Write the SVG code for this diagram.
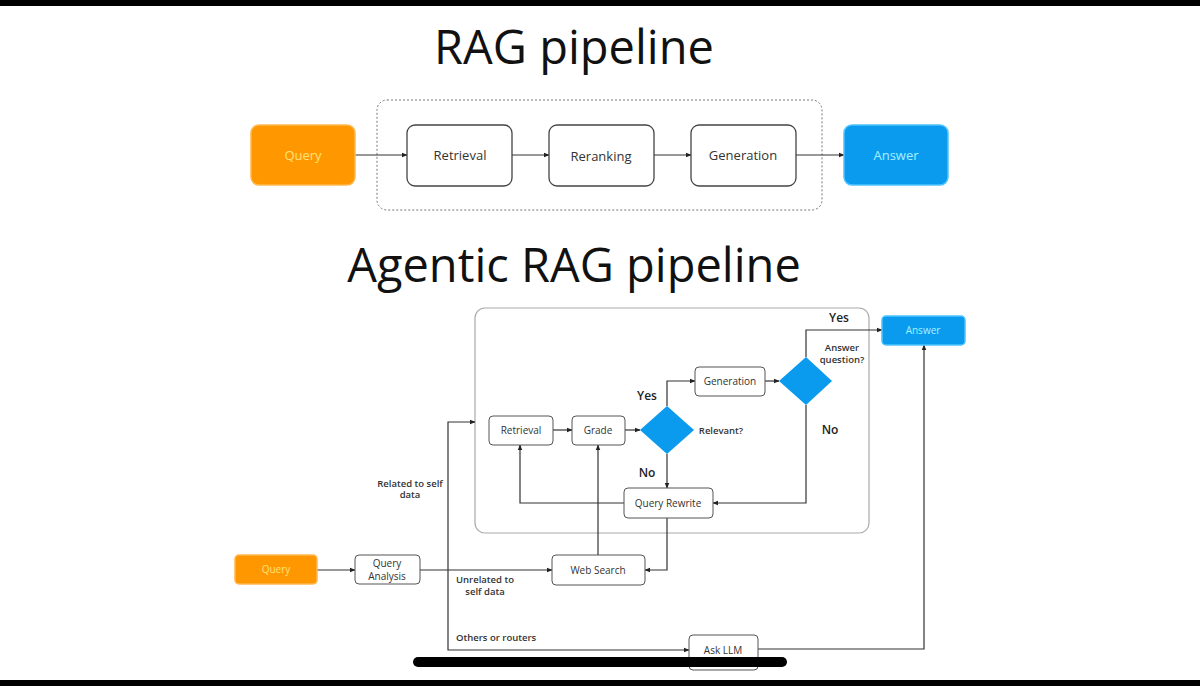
<svg xmlns="http://www.w3.org/2000/svg" width="1200" height="686" viewBox="0 0 1200 686">
<defs>
<marker id="ah" viewBox="0 0 10 10" refX="9" refY="5" markerWidth="5" markerHeight="5" orient="auto-start-reverse"><path d="M0,1 L10,5 L0,9 z" fill="#222"/></marker>
<style>
.title{font-family:"Open Sans","Noto Sans",sans-serif;font-size:47px;fill:#111;text-anchor:middle}
.box{fill:#fff;stroke:#444;stroke-width:1.3}
.sbox{fill:#fff;stroke:#555;stroke-width:1}
.t{font-family:"Open Sans","Noto Sans",sans-serif;font-size:13px;fill:#333;text-anchor:middle}
.s{font-family:"Open Sans","Noto Sans",sans-serif;font-size:10px;fill:#333;text-anchor:middle}
.lb{font-family:"Open Sans","Noto Sans",sans-serif;font-size:9.5px;fill:#333;text-anchor:middle;font-weight:600}
.yn{font-family:"Open Sans","Noto Sans",sans-serif;font-size:12px;fill:#222;text-anchor:middle;font-weight:600}
.orange{fill:#FF9800;stroke:#FFB84D;stroke-width:1.5}
.blue{fill:#0A9BEF;stroke:#4FC3FF;stroke-width:1.5}
.qt{fill:#FFE27A}
.at{fill:#A8F0FF}
.c{fill:none;stroke:#333;stroke-width:1.2}
.ca{fill:none;stroke:#333;stroke-width:1.2;marker-end:url(#ah)}
.dia{fill:#0A9BEF}
</style>
</defs>
<rect x="0" y="0" width="1200" height="686" fill="#fff"/>
<rect x="0" y="0" width="1200" height="6" fill="#000"/>
<rect x="0" y="680" width="1200" height="6" fill="#000"/>

<text class="title" x="574" y="64">RAG pipeline</text>
<text class="title" x="574" y="282">Agentic RAG pipeline</text>

<g id="rag-container"><rect x="377" y="100" width="445" height="110" rx="10" fill="none" stroke="#777" stroke-width="1" stroke-dasharray="2,2"/></g>

<g id="connectors-top">
<line class="ca" x1="355" y1="155" x2="407" y2="155"/>
<line class="ca" x1="512" y1="155" x2="549" y2="155"/>
<line class="ca" x1="654" y1="155" x2="691" y2="155"/>
<line class="ca" x1="796" y1="155" x2="844" y2="155"/>
</g>

<g id="query-top"><rect class="orange" x="251" y="125" width="104" height="60" rx="8"/><text class="t qt" x="303" y="160">Query</text></g>
<g id="retrieval-top"><rect class="box" x="407" y="125" width="105" height="61" rx="8"/><text class="t" x="460" y="160">Retrieval</text></g>
<g id="reranking-top"><rect class="box" x="549" y="125" width="105" height="61" rx="8"/><text class="t" x="601" y="161">Reranking</text></g>
<g id="generation-top"><rect class="box" x="691" y="125" width="105" height="61" rx="8"/><text class="t" x="743" y="160">Generation</text></g>
<g id="answer-top"><rect class="blue" x="844" y="125" width="104" height="60" rx="8"/><text class="t at" x="896" y="160">Answer</text></g>

<g id="agentic-container"><rect x="475" y="308" width="394" height="225" rx="10" fill="none" stroke="#aaa" stroke-width="1.2"/></g>

<g id="connectors-bottom">
<line class="ca" x1="317" y1="570" x2="355" y2="570"/>
<line class="ca" x1="420" y1="570" x2="552" y2="570"/>
<polyline class="ca" points="448,570 448,422 475,422"/>
<polyline class="ca" points="448,570 448,650 689,650"/>
<polyline class="ca" points="758,649 924,649 924,345"/>
<line class="ca" x1="553" y1="430" x2="572" y2="430"/>
<line class="ca" x1="625" y1="430" x2="640" y2="430"/>
<polyline class="ca" points="667,406 667,381 695,381"/>
<line class="ca" x1="765" y1="381" x2="779" y2="381"/>
<polyline class="ca" points="806,357 806,330 882,330"/>
<line class="ca" x1="667" y1="454" x2="667" y2="488"/>
<polyline class="ca" points="806,405 806,503 713,503"/>
<polyline class="ca" points="624,503 520,503 520,445"/>
<line class="ca" x1="598" y1="555" x2="598" y2="445"/>
<polyline class="ca" points="667,518 667,570 645,570"/>
</g>

<g id="labels">
<text class="lb" x="410" y="487">Related to self</text>
<text class="lb" x="410" y="498">data</text>
<text class="lb" x="485" y="583">Unrelated to</text>
<text class="lb" x="485" y="595">self data</text>
<text class="lb" x="456" y="641" style="text-anchor:start">Others or routers</text>
<text class="lb" x="721" y="434">Relevant?</text>
<text class="lb" x="842" y="351">Answer</text>
<text class="lb" x="842" y="363">question?</text>
<text class="yn" x="647" y="400">Yes</text>
<text class="yn" x="647" y="477">No</text>
<text class="yn" x="839" y="322">Yes</text>
<text class="yn" x="830" y="434">No</text>
</g>

<g id="query-bottom"><rect class="orange" x="235" y="555" width="82" height="29" rx="4"/><text class="s qt" x="276" y="573">Query</text></g>
<g id="query-analysis"><rect class="sbox" x="355" y="555" width="65" height="29" rx="4"/><text class="s" x="387" y="567">Query</text><text class="s" x="387" y="580">Analysis</text></g>
<g id="retrieval-bottom"><rect class="sbox" x="489" y="416" width="64" height="29" rx="4"/><text class="s" x="521" y="434">Retrieval</text></g>
<g id="grade"><rect class="sbox" x="572" y="416" width="53" height="29" rx="4"/><text class="s" x="598" y="434">Grade</text></g>
<g id="relevant"><polygon class="dia" points="667,406 694,430 667,454 640,430"/></g>
<g id="generation-bottom"><rect class="sbox" x="695" y="367" width="70" height="29" rx="4"/><text class="s" x="730" y="385">Generation</text></g>
<g id="answer-question"><polygon class="dia" points="806,357 832,381 806,405 779,381"/></g>
<g id="answer-bottom"><rect class="blue" x="882" y="316" width="83" height="29" rx="4"/><text class="s at" x="923" y="334">Answer</text></g>
<g id="query-rewrite"><rect class="sbox" x="624" y="488" width="89" height="30" rx="4"/><text class="s" x="668" y="507">Query Rewrite</text></g>
<g id="web-search"><rect class="sbox" x="552" y="555" width="93" height="30" rx="4"/><text class="s" x="598" y="574">Web Search</text></g>
<g id="ask-llm"><rect class="sbox" x="689" y="635" width="69" height="35" rx="4"/><text class="s" x="723" y="654">Ask LLM</text></g>

<rect x="413" y="657" width="374" height="10" rx="5" fill="#000"/>
</svg>
